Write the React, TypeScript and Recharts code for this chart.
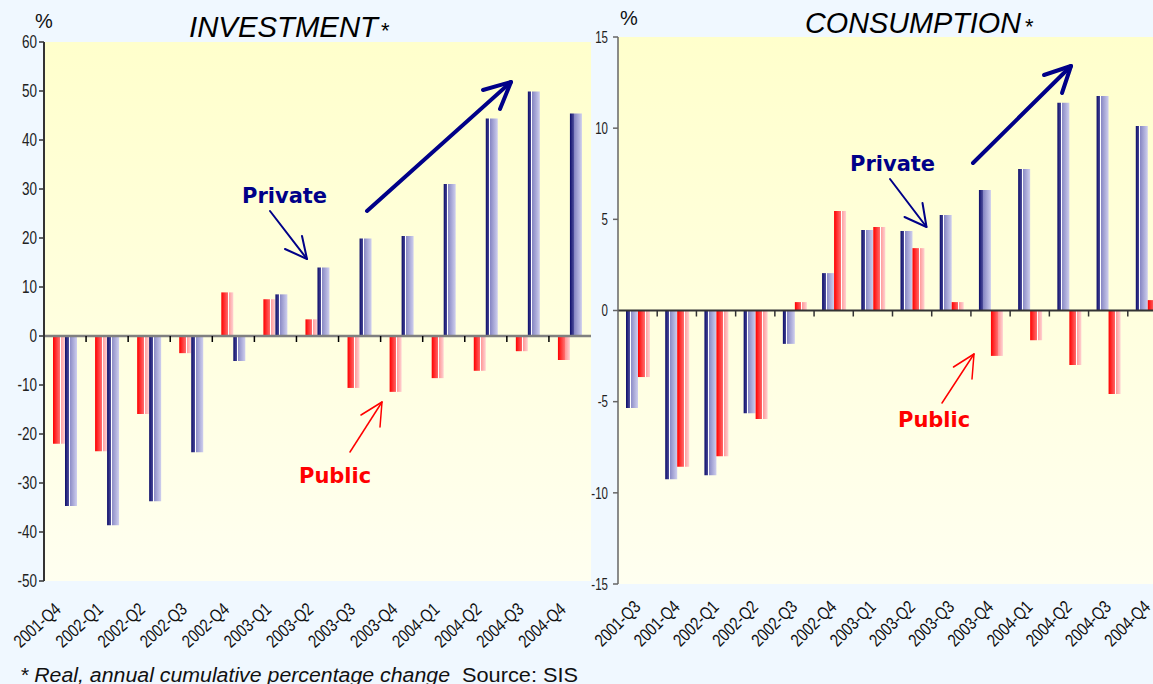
import React from 'react';
import { BarChart, Bar, XAxis, YAxis, CartesianGrid, ReferenceLine } from 'recharts';

// ---------- DATA ----------
const invCategories = ['2001-Q4', '2002-Q1', '2002-Q2', '2002-Q3', '2002-Q4', '2003-Q1', '2003-Q2', '2003-Q3', '2003-Q4', '2004-Q1', '2004-Q2', '2004-Q3', '2004-Q4'];
const invPublic = [-22.0, -23.5, -15.9, -3.5, 8.9, 7.5, 3.4, -10.6, -11.4, -8.6, -7.1, -3.1, -4.9];
const invPrivate = [-34.7, -38.6, -33.7, -23.7, -5.1, 8.5, 14.0, 19.9, 20.4, 31.0, 44.4, 49.9, 45.4];
const invTicks = [-50, -40, -30, -20, -10, 0, 10, 20, 30, 40, 50, 60];

const conCategories = ['2001-Q3', '2001-Q4', '2002-Q1', '2002-Q2', '2002-Q3', '2002-Q4', '2003-Q1', '2003-Q2', '2003-Q3', '2003-Q4', '2004-Q1', '2004-Q2', '2004-Q3', '2004-Q4'];
const conPrivate = [-5.35, -9.25, -9.03, -5.63, -1.83, 2.05, 4.41, 4.36, 5.24, 6.61, 7.76, 11.39, 11.77, 10.12];
const conPublic = [-3.65, -8.57, -7.99, -5.95, 0.46, 5.46, 4.58, 3.42, 0.46, -2.49, -1.63, -2.99, -4.58, 0.57];
const conTicks = [-15, -10, -5, 0, 5, 10, 15];

const invData = invCategories.map((c, i) => ({ cat: c, pub: invPublic[i], priv: invPrivate[i] }));
const conData = conCategories.map((c, i) => ({ cat: c, priv: conPrivate[i], pub: conPublic[i] }));

const SANS = "'Liberation Sans', Arial, sans-serif";
const BOLD = "'DejaVu Sans', Verdana, sans-serif";

type Cfg = { band: number; zeroY: number; dx: number; dy: number; angle: number; tickColor: string; fs: number; sx: number };

const makeXTick = (cfg: Cfg, cats: string[]) => (props: any) => {
  const { x, y, payload } = props;
  const idx = cats.indexOf(payload.value);
  const bx = x - cfg.band / 2;
  return (
    <g>
      {idx > 0 && (
        <line x1={bx} x2={bx} y1={cfg.zeroY} y2={cfg.zeroY + 6} stroke={cfg.tickColor} strokeWidth={1.5} />
      )}
      <text
        transform={`translate(${x + cfg.dx},${y + cfg.dy}) rotate(${cfg.angle}) scale(${cfg.sx},1)`}
        textAnchor="end"
        fontSize={cfg.fs}
        fontFamily={SANS}
        fill="#111"
      >
        {payload.value}
      </text>
    </g>
  );
};

const makeYTick = (fs: number, sx: number) => (props: any) => {
  const { x, y, payload } = props;
  return (
    <text transform={`translate(${x},${y}) scale(${sx},1)`} textAnchor="end" dy="0.36em" fontSize={fs} fontFamily={SANS} fill="#222">
      {payload.value}
    </text>
  );
};

const Grads = ({ p }: { p: string }) => (
  <defs>
    <linearGradient id={`${p}bg`} x1="0" y1="0" x2="0" y2="1">
      <stop offset="0" stopColor="#ffffcc" />
      <stop offset="1" stopColor="#fffff0" />
    </linearGradient>
    <linearGradient id={`${p}blue`} x1="0" y1="0" x2="1" y2="0">
      <stop offset="0" stopColor="#0c0c6a" />
      <stop offset="0.3" stopColor="#4a4a98" />
      <stop offset="0.3" stopColor="#ffffff" />
      <stop offset="0.38" stopColor="#ffffff" />
      <stop offset="0.38" stopColor="#8888c4" />
      <stop offset="1" stopColor="#cfcfee" />
    </linearGradient>
    <linearGradient id={`${p}red`} x1="0" y1="0" x2="1" y2="0">
      <stop offset="0" stopColor="#ff0000" />
      <stop offset="0.55" stopColor="#ff6a6a" />
      <stop offset="0.55" stopColor="#ffffff" />
      <stop offset="0.63" stopColor="#ffffff" />
      <stop offset="0.63" stopColor="#ff9a9a" />
      <stop offset="1" stopColor="#ffd2d2" />
    </linearGradient>
  </defs>
);

function InvestmentChart() {
  const plotW = 547;
  const plotH = 539;
  const cfg: Cfg = { band: plotW / invCategories.length, zeroY: 42 + (plotH * 60) / 110, dx: -3, dy: 30, angle: -42, tickColor: '#000', fs: 18, sx: 0.8 };
  return (
    <BarChart width={600} height={681} data={invData} margin={{ top: 42, right: 9, bottom: 0, left: 0 }} barGap={0} barCategoryGap={0}>
      <Grads p="inv" />
      <CartesianGrid horizontal={false} vertical={false} fill="url(#invbg)" stroke="none" />
      <XAxis dataKey="cat" height={100} interval={0} tickLine={false} axisLine={false} tickSize={0} tickMargin={0} tick={makeXTick(cfg, invCategories)} />
      <YAxis
        domain={[-50, 60]}
        ticks={invTicks}
        width={44}
        interval={0}
        tickSize={5}
        tickMargin={2}
        axisLine={{ stroke: '#333', strokeWidth: 2 }}
        tickLine={{ stroke: '#333', strokeWidth: 1.5 }}
        tick={makeYTick(18, 0.75)}
      />
      <Bar dataKey="pub" fill="url(#invred)" barSize={12} isAnimationActive={false} />
      <Bar dataKey="priv" fill="url(#invblue)" barSize={12} isAnimationActive={false} />
      <ReferenceLine y={0} stroke="#808080" strokeWidth={2.5} />
    </BarChart>
  );
}

function ConsumptionChart() {
  const plotW = 549;
  const plotH = 547;
  const cfg: Cfg = { band: plotW / conCategories.length, zeroY: 37 + plotH / 2, dx: 4, dy: 24, angle: -45, tickColor: '#333', fs: 18, sx: 0.8 };
  return (
    <BarChart width={607} height={684} data={conData} margin={{ top: 37, right: 0, bottom: 0, left: 0 }} barGap={0} barCategoryGap={0}>
      <Grads p="con" />
      <CartesianGrid horizontal={false} vertical={false} fill="url(#conbg)" stroke="none" />
      <XAxis dataKey="cat" height={100} interval={0} tickLine={false} axisLine={false} tickSize={0} tickMargin={0} tick={makeXTick(cfg, conCategories)} />
      <YAxis
        domain={[-15, 15]}
        ticks={conTicks}
        width={58}
        interval={0}
        tickSize={5}
        tickMargin={5}
        axisLine={{ stroke: '#666', strokeWidth: 1.5 }}
        tickLine={{ stroke: '#666', strokeWidth: 1.5 }}
        tick={makeYTick(16, 0.72)}
      />
      <Bar dataKey="priv" fill="url(#conblue)" barSize={12} isAnimationActive={false} />
      <Bar dataKey="pub" fill="url(#conred)" barSize={12} isAnimationActive={false} />
      <ReferenceLine y={0} stroke="#333" strokeWidth={2} />
    </BarChart>
  );
}

const NAVY = '#000088';
const RED = '#ff0000';

const Arrow = ({ from, to, b1, b2, color, w }: { from: number[]; to: number[]; b1: number[]; b2: number[]; color: string; w: number }) => (
  <g stroke={color} strokeWidth={w} fill="none" strokeLinecap="round" strokeLinejoin="round">
    <line x1={from[0]} y1={from[1]} x2={to[0]} y2={to[1]} />
    <polyline points={`${b1[0]},${b1[1]} ${to[0]},${to[1]} ${b2[0]},${b2[1]}`} />
  </g>
);

function Overlay() {
  return (
    <svg width={1153} height={684} style={{ position: 'absolute', left: 0, top: 0, pointerEvents: 'none' }}>
      {/* titles */}
      <text x={35} y={28} fontSize={20} fontFamily={SANS} fill="#111">%</text>
      <text x={189} y={37} fontSize={30} fontStyle="italic" fontFamily="'Liberation Sans Narrow', 'Liberation Sans', Arial, sans-serif" textLength={189} lengthAdjust="spacingAndGlyphs" fill="#000">INVESTMENT</text>
      <text x={381} y={38} fontSize={22} fontFamily={SANS} fill="#000">*</text>

      <text x={620} y={25} fontSize={20} fontFamily={SANS} fill="#111">%</text>
      <text x={805} y={33} fontSize={30} fontStyle="italic" fontFamily="'Liberation Sans Narrow', 'Liberation Sans', Arial, sans-serif" textLength={216} lengthAdjust="spacingAndGlyphs" fill="#000">CONSUMPTION</text>
      <text x={1025} y={34} fontSize={22} fontFamily={SANS} fill="#000">*</text>

      {/* left annotations */}
      <text x={242} y={203} fontSize={21} fontWeight="bold" fontFamily={BOLD} fill={NAVY}>Private</text>
      <Arrow from={[270, 211]} to={[307, 259]} b1={[302, 236]} b2={[285, 249]} color={NAVY} w={2} />
      <Arrow from={[367, 211]} to={[511, 82]} b1={[483, 90]} b2={[500, 109]} color={NAVY} w={4} />
      <text x={299} y={483} fontSize={21} fontWeight="bold" fontFamily={BOLD} fill={RED}>Public</text>
      <Arrow from={[350, 452]} to={[382, 402]} b1={[361, 415]} b2={[380, 427]} color={RED} w={1.5} />

      {/* right annotations */}
      <text x={850} y={171} fontSize={21} fontWeight="bold" fontFamily={BOLD} fill={NAVY}>Private</text>
      <Arrow from={[890, 179]} to={[926.5, 227]} b1={[922.5, 203]} b2={[904.5, 217]} color={NAVY} w={2} />
      <Arrow from={[973, 163]} to={[1071, 66]} b1={[1044, 75]} b2={[1062, 93]} color={NAVY} w={4} />
      <text x={898} y={427} fontSize={21} fontWeight="bold" fontFamily={BOLD} fill={RED}>Public</text>
      <Arrow from={[942, 403]} to={[974, 354]} b1={[953.5, 367]} b2={[972, 379]} color={RED} w={1.5} />

      {/* footnote */}
      <text x={20} y={682} fontSize={20} fontStyle="italic" fontFamily={SANS} textLength={430} lengthAdjust="spacingAndGlyphs" fill="#111">* Real, annual cumulative percentage change</text>
      <text x={462} y={682} fontSize={20} fontFamily={SANS} textLength={116} lengthAdjust="spacingAndGlyphs" fill="#111">Source: SIS</text>
    </svg>
  );
}

export default function App() {
  return (
    <div style={{ position: 'fixed', left: 0, top: 0, width: 1153, height: 684, overflow: 'hidden', background: '#f0f8ff' }}>
      <div style={{ position: 'absolute', left: 0, top: 0 }}>
        <InvestmentChart />
      </div>
      <div style={{ position: 'absolute', left: 560, top: 0 }}>
        <ConsumptionChart />
      </div>
      <Overlay />
    </div>
  );
}
